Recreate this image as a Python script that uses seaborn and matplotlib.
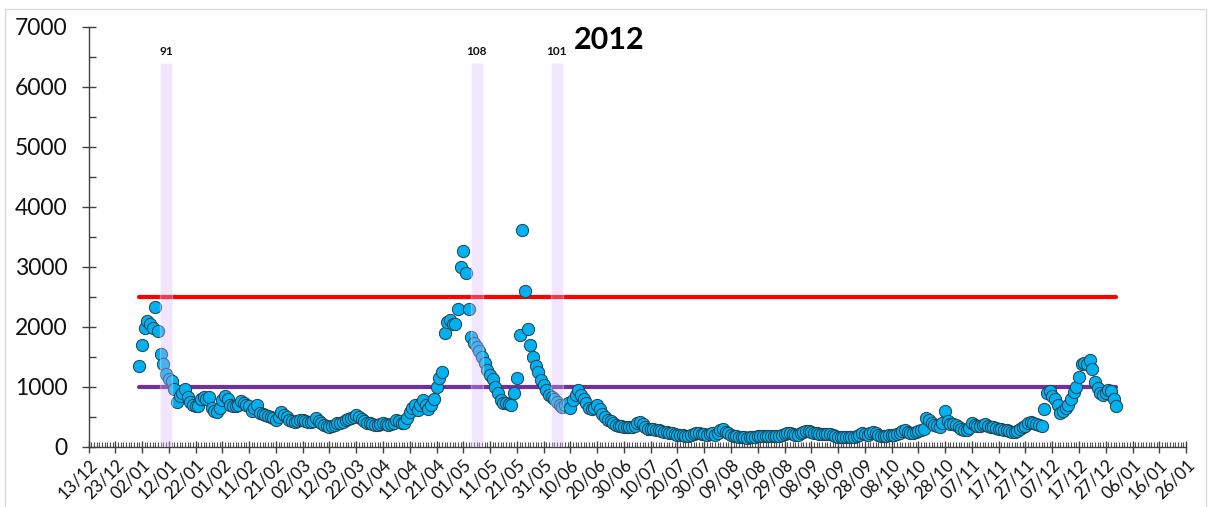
import pandas as pd
import seaborn as sns
import matplotlib.pyplot as plt
import matplotlib.dates as mdates
from matplotlib.patches import Rectangle
from matplotlib.ticker import MultipleLocator, FixedLocator

# daily values 2012
jan = [1350, 1690, 1980, 2100, 2050, 1970, 2330, 1930, 1540, 1370, 1210, 1130, 1090, 960, 740, 850,
       900, 960, 830, 750, 700, 680, 670, 790, 820, 800, 820, 650, 600, 570, 640]
feb = [780, 840, 800, 700, 680, 675, 700, 760, 720, 690, 675, 600, 640, 690, 560, 540, 525, 510, 500,
       470, 445, 500, 580, 530, 500, 445, 430, 415, 420]
mar = [440, 440, 425, 415, 410, 430, 470, 430, 390, 360, 340, 330, 345, 360, 385, 400, 415, 440, 460,
       470, 500, 525, 490, 455, 420, 390, 385, 370, 358, 360, 380]
apr = [390, 370, 360, 380, 400, 440, 420, 400, 385, 470, 580, 640, 690, 610, 700, 775, 700, 620, 700,
       790, 1000, 1140, 1250, 1890, 2080, 2110, 2040, 2050, 2290, 3000]
may = [3260, 2900, 2290, 1830, 1720, 1660, 1600, 1500, 1390, 1280, 1190, 1120, 1000, 890, 780, 730,
       720, 710, 700, 890, 1140, 1860, 3610, 2590, 1960, 1690, 1500, 1340, 1250, 1110, 1030]
jun = [940, 860, 830, 800, 750, 700, 665, 690, 720, 640, 775, 860, 940, 860, 800, 720, 650, 620, 640,
       690, 620, 550, 500, 440, 420, 400, 360, 340, 340, 330]
jul = [320, 320, 320, 350, 390, 410, 380, 330, 300, 300, 290, 280, 275, 260, 250, 240, 230, 220, 210,
       200, 190, 185, 180, 175, 190, 210, 230, 225, 215, 210, 200]
aug = [210, 220, 200, 230, 270, 290, 250, 230, 200, 180, 170, 163, 160, 155, 150, 155, 153, 160, 170,
       175, 175, 175, 180, 170, 175, 180, 175, 190, 210, 230, 230]
sep = [210, 190, 200, 220, 240, 260, 255, 240, 230, 220, 215, 210, 205, 210, 205, 190, 175, 160, 153,
       155, 165, 160, 160, 165, 175, 200, 230, 215, 195, 230]
oct_ = [245, 220, 195, 180, 175, 175, 185, 190, 195, 210, 230, 260, 275, 250, 230, 220, 240, 260, 275,
        300, 470, 440, 390, 360, 340, 320, 400, 600, 420, 380, 370]
nov = [360, 330, 300, 280, 275, 310, 390, 360, 340, 350, 360, 370, 350, 330, 320, 310, 300, 290, 280,
       275, 260, 250, 245, 260, 290, 330, 350, 390, 410, 400]
dec = [380, 360, 345, 620, 900, 920, 850, 790, 700, 560, 600, 650, 690, 800, 910, 1000, 1160, 1380,
       1400, 1380, 1440, 1300, 1080, 970, 900, 860, 900, 940, 930, 790, 670]

limits = [2500, 1000]
limit_colors = ['#FF0000', '#7030A0']

band_dates = ['2012-01-11', '2012-05-06', '2012-06-05']
band_labels = ['91', '108', '101']
band_height = 6400

title = '2012'

values = jan + feb + mar + apr + may + jun + jul + aug + sep + oct_ + nov + dec
days = pd.date_range('2012-01-01', '2012-12-31', freq='D')
df = pd.DataFrame({'date': days, 'value': values})

sns.set_theme(style='white')
plt.rcParams['font.family'] = ['Lato', 'DejaVu Sans']

fig = plt.figure(figsize=(12.11, 5.07), dpi=100)
ax = fig.add_axes([0.0731, 0.1193, 0.9063, 0.8280])

# threshold lines
for lim, col in zip(limits, limit_colors):
    ax.plot([days[0], days[-1]], [lim, lim], color=col, lw=3, solid_capstyle='round', zorder=2)

sns.scatterplot(data=df, x='date', y='value', s=78, color='#00B0F0', edgecolor='#22404F',
                linewidth=0.7, zorder=3, ax=ax, legend=False)

# highlighted days
bdates = pd.to_datetime(band_dates)
ax.bar(bdates, [band_height] * len(bdates), width=4.4, color='#D9B3FF', alpha=0.32, zorder=4)
for d, lab in zip(bdates, band_labels):
    ax.annotate(lab, (d, band_height), xytext=(0, 4), textcoords='offset points',
                ha='center', va='bottom', fontsize=8.5, fontweight='bold', color='#111111')

fig.text(609 / 1211, 1 - 40 / 507, title, ha='center', va='center', fontsize=22,
         fontweight='bold', color='black')

# axes
xticks = pd.date_range('2011-12-13', '2013-01-26', freq='10D')
ax.set_xlim(xticks[0], xticks[-1])
ax.set_ylim(0, 7000)
ax.xaxis.set_major_locator(FixedLocator(mdates.date2num(xticks)))
ax.xaxis.set_minor_locator(mdates.DayLocator())
ax.set_xticklabels([t.strftime('%d/%m') for t in xticks])
ax.yaxis.set_major_locator(MultipleLocator(1000))
ax.yaxis.set_minor_locator(MultipleLocator(500))
ax.set_xlabel('')
ax.set_ylabel('')

for s in ['top', 'right']:
    ax.spines[s].set_visible(False)
for s in ['left', 'bottom']:
    ax.spines[s].set_color('#404040')
    ax.spines[s].set_linewidth(1)

ax.tick_params(axis='y', which='major', left=True, direction='inout', length=10, width=1,
               color='#404040', labelsize=16.5, pad=10, labelcolor='#111111')
ax.tick_params(axis='y', which='minor', left=True, direction='in', length=5, width=1, color='#404040')
ax.tick_params(axis='x', which='major', bottom=True, direction='inout', length=8, width=1,
               color='#404040', labelsize=12.5, pad=3, labelcolor='#111111')
ax.tick_params(axis='x', which='minor', bottom=True, direction='in', length=3.5, width=0.8, color='#505050')
plt.setp(ax.get_xticklabels(), rotation=45, ha='right', rotation_mode='anchor')

fig.patches.append(Rectangle((5 / 1211, -0.01), 1201 / 1211, 1 - 9 / 507 + 0.01,
                             transform=fig.transFigure, fill=False, ec='#D9D9D9', lw=1))

fig.savefig('out.png', dpi=100)
